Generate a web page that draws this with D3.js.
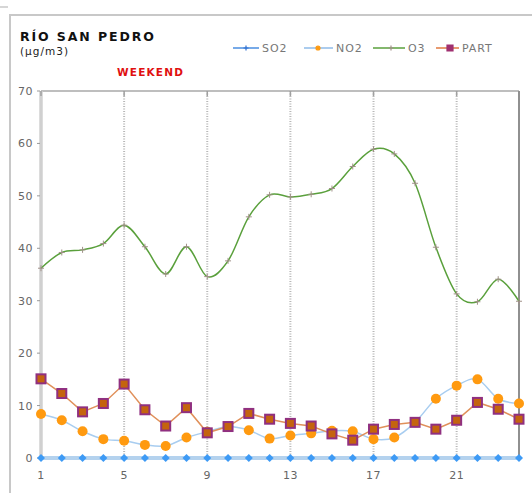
<!DOCTYPE html>
<html>
<head>
<meta charset="utf-8">
<script src="https://cdn.jsdelivr.net/npm/d3@7"></script>
<style>
  body { margin: 0; background: #fff; }
  text { font-family: "DejaVu Sans", Verdana, sans-serif; }
</style>
</head>
<body>
<svg width="532" height="493"></svg>
<script>
// data
var days = d3.range(1, 25);
var so2 = [0,0,0,0,0,0,0,0,0,0,0,0,0,0,0,0,0,0,0,0,0,0,0,0];
var no2 = [8.4,7.2,5.1,3.6,3.3,2.5,2.3,3.9,5.0,6.0,5.3,3.7,4.3,4.7,5.2,5.1,3.6,3.9,6.8,11.3,13.8,15.0,11.3,10.4];
var o3 = [36.2,39.2,39.7,40.9,44.4,40.3,35.1,40.3,34.6,37.6,46.0,50.2,49.8,50.3,51.4,55.6,58.9,58.0,52.4,40.2,31.3,29.8,34.1,29.9];
var part = [15.1,12.3,8.8,10.4,14.1,9.2,6.1,9.6,4.8,6.0,8.5,7.4,6.6,6.1,4.6,3.4,5.5,6.4,6.8,5.5,7.2,10.6,9.3,7.4];
var yTicks = [0, 10, 20, 30, 40, 50, 60, 70];
var xTicks = [1, 5, 9, 13, 17, 21];

var svg = d3.select("svg");

// outer frame
svg.append("path")
  .attr("d", "M10,493 V15 H532")
  .attr("fill", "none")
  .attr("stroke", "#c8c8c8")
  .attr("stroke-width", 2);
svg.append("line")
  .attr("x1", 0).attr("x2", 8).attr("y1", 7).attr("y2", 7)
  .attr("stroke", "#c8c8c8").attr("stroke-width", 1.5);

// title
svg.append("text")
  .attr("x", 20).attr("y", 41)
  .style("font-size", "12.5px").style("font-weight", "bold")
  .style("letter-spacing", "1.9px")
  .attr("fill", "#111")
  .text("RÍO SAN PEDRO");
svg.append("text")
  .attr("x", 20).attr("y", 55)
  .style("font-size", "10.5px")
  .style("letter-spacing", "1px")
  .attr("fill", "#222")
  .text("(µg/m3)");
svg.append("text")
  .attr("x", 117).attr("y", 76)
  .style("font-size", "10.5px").style("font-weight", "bold")
  .style("letter-spacing", "1.2px")
  .attr("fill", "#e01010")
  .text("WEEKEND");

// scales
var x = d3.scaleLinear().domain([1, 24]).range([41, 519]);
var y = d3.scaleLinear().domain([0, 70]).range([458, 91]);

// grid
svg.append("g")
  .selectAll("line")
  .data(xTicks.slice(1))
  .enter()
  .append("line")
  .attr("x1", function (d) { return x(d); })
  .attr("x2", function (d) { return x(d); })
  .attr("y1", y(70)).attr("y2", y(0))
  .attr("stroke", "#b8b8b8")
  .attr("stroke-width", 2)
  .attr("stroke-dasharray", "1,1.5");

// plot border
svg.append("line")
  .attr("x1", x(1)).attr("x2", x(24)).attr("y1", y(70)).attr("y2", y(70))
  .attr("stroke", "#a8a8a8").attr("stroke-width", 1.5);
svg.append("line")
  .attr("x1", x(24)).attr("x2", x(24)).attr("y1", y(70)).attr("y2", y(0))
  .attr("stroke", "#909090").attr("stroke-width", 2);
svg.append("line")
  .attr("x1", x(1)).attr("x2", x(1)).attr("y1", y(70)).attr("y2", y(0))
  .attr("stroke", "#d0d0d0").attr("stroke-width", 3.5);

// top ticks
svg.append("g")
  .selectAll("line")
  .data(xTicks)
  .enter()
  .append("line")
  .attr("x1", function (d) { return x(d); })
  .attr("x2", function (d) { return x(d); })
  .attr("y1", y(70)).attr("y2", y(70) + 5)
  .attr("stroke", "#a0a0a0").attr("stroke-width", 1.5);

// y axis labels + ticks
var yg = svg.append("g");
yg.selectAll("line")
  .data(yTicks)
  .enter()
  .append("line")
  .attr("x1", 37).attr("x2", 40)
  .attr("y1", function (d) { return y(d); })
  .attr("y2", function (d) { return y(d); })
  .attr("stroke", "#999");
yg.selectAll("text")
  .data(yTicks)
  .enter()
  .append("text")
  .attr("x", 33)
  .attr("y", function (d) { return y(d) + 4; })
  .attr("text-anchor", "end")
  .style("font-size", "11px")
  .style("letter-spacing", "0.5px")
  .attr("fill", "#666")
  .text(function (d) { return d; });

// x axis labels
svg.append("g")
  .selectAll("text")
  .data(xTicks)
  .enter()
  .append("text")
  .attr("x", function (d) { return x(d); })
  .attr("y", 479)
  .attr("text-anchor", "middle")
  .style("font-size", "11px")
  .style("letter-spacing", "0.5px")
  .attr("fill", "#666")
  .text(function (d) { return d; });

var smooth = d3.line()
  .x(function (d, i) { return x(days[i]); })
  .y(function (d) { return y(d); })
  .curve(d3.curveCatmullRom.alpha(0));
var straight = d3.line()
  .x(function (d, i) { return x(days[i]); })
  .y(function (d) { return y(d); });

// SO2
svg.append("path")
  .attr("d", straight(so2))
  .attr("fill", "none")
  .attr("stroke", "#b4d2ee")
  .attr("stroke-width", 4);

// O3
svg.append("path")
  .attr("d", smooth(o3))
  .attr("fill", "none")
  .attr("stroke", "#5aa03c")
  .attr("stroke-width", 1.5);
svg.append("g")
  .selectAll("path")
  .data(o3)
  .enter()
  .append("path")
  .attr("d", function (d, i) {
    var cx = x(days[i]), cy = y(d);
    return "M" + (cx - 3) + "," + cy + "H" + (cx + 3) + "M" + cx + "," + (cy - 3) + "V" + (cy + 3);
  })
  .attr("stroke", "#a09088")
  .attr("stroke-width", 1);

// NO2
svg.append("path")
  .attr("d", smooth(no2))
  .attr("fill", "none")
  .attr("stroke", "#a8cdf0")
  .attr("stroke-width", 1.5);
svg.append("g")
  .selectAll("circle")
  .data(no2)
  .enter()
  .append("circle")
  .attr("cx", function (d, i) { return x(days[i]); })
  .attr("cy", function (d) { return y(d); })
  .attr("r", 5)
  .attr("fill", "#ff9a10");

// PART
svg.append("path")
  .attr("d", straight(part))
  .attr("fill", "none")
  .attr("stroke", "#e0905a")
  .attr("stroke-width", 1.5);
svg.append("g")
  .selectAll("rect")
  .data(part)
  .enter()
  .append("rect")
  .attr("x", function (d, i) { return x(days[i]) - 4.5; })
  .attr("y", function (d) { return y(d) - 4.5; })
  .attr("width", 9).attr("height", 9)
  .attr("fill", "#c4640e")
  .attr("stroke", "#903080")
  .attr("stroke-width", 2);

// SO2 markers on top
svg.append("g")
  .selectAll("path")
  .data(so2)
  .enter()
  .append("path")
  .attr("d", function (d, i) {
    var cx = x(days[i]), cy = y(d);
    return "M" + cx + "," + (cy - 4) + "L" + (cx + 4) + "," + cy + "L" + cx + "," + (cy + 4) + "L" + (cx - 4) + "," + cy + "Z";
  })
  .attr("fill", "#3d9af5");

// legend
var legend = [
  { name: "SO2", line: "#4a8ee0", x: 233, w: 26, m: 13, mark: "plus", mc: "#3070d0" },
  { name: "NO2", line: "#8fbbe8", x: 304, w: 29, m: 14, mark: "dot", mc: "#ff9a10" },
  { name: "O3", line: "#5aa03c", x: 373, w: 32, m: 18, mark: "plus", mc: "#a09088" },
  { name: "PART", line: "#e07a40", x: 436, w: 23, m: 14, mark: "square", mc: "#a03070" }
];
var ly = 48;
var lg = svg.append("g").selectAll("g").data(legend).enter().append("g");
lg.append("line")
  .attr("x1", function (d) { return d.x; })
  .attr("x2", function (d) { return d.x + d.w; })
  .attr("y1", ly).attr("y2", ly)
  .attr("stroke", function (d) { return d.line; })
  .attr("stroke-width", 1.5);
lg.append("path")
  .attr("d", function (d) {
    var cx = d.x + d.m;
    if (d.mark === "plus") return "M" + (cx - 2.5) + "," + ly + "H" + (cx + 2.5) + "M" + cx + "," + (ly - 2.5) + "V" + (ly + 2.5);
    if (d.mark === "dot") return "M" + (cx - 2) + "," + ly + "a2,2 0 1,0 4,0a2,2 0 1,0 -4,0";
    return "M" + (cx - 3) + "," + (ly - 3) + "h6v6h-6Z";
  })
  .attr("fill", function (d) { return d.mark === "plus" ? "none" : d.mc; })
  .attr("stroke", function (d) { return d.mc; })
  .attr("stroke-width", 1.2);
lg.append("text")
  .attr("x", function (d) { return d.x + d.w + 3; })
  .attr("y", ly + 4)
  .style("font-size", "11px")
  .style("letter-spacing", "0.9px")
  .attr("fill", "#777")
  .text(function (d) { return d.name; });
</script>
</body>
</html>
